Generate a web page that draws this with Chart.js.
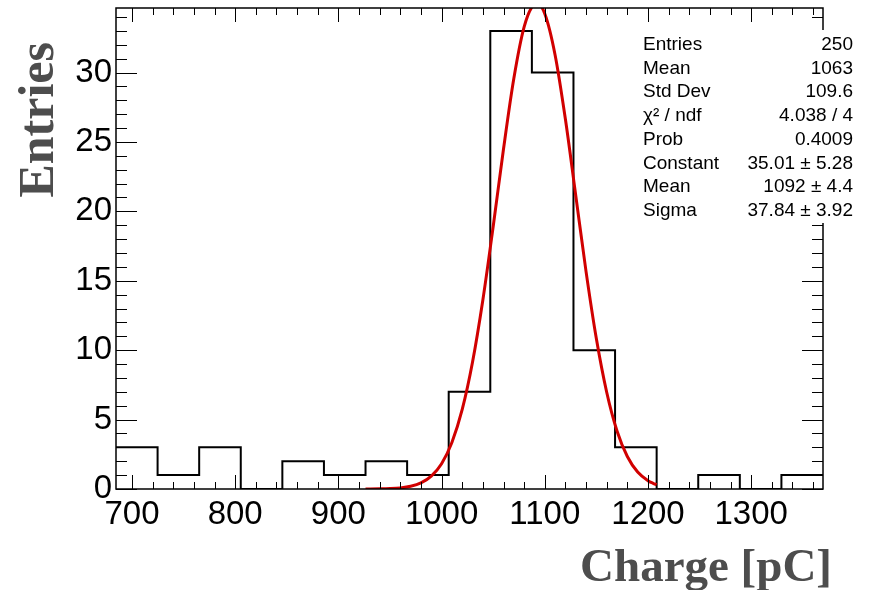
<!DOCTYPE html>
<html>
<head>
<meta charset="utf-8">
<script src="https://cdn.jsdelivr.net/npm/chart.js@4.4.1/dist/chart.umd.min.js"></script>
<style>
  html, body { margin: 0; padding: 0; background: #fff; }
  #wrap { width: 873px; height: 590px; }
</style>
</head>
<body>
<div id="wrap"><canvas id="myChart" width="873" height="590"></canvas></div>
<script>
// 히스토그램 구간 경계 (Charge [pC])
const BIN_EDGES = [
  684.5, 724.8, 765.1, 805.4, 845.7, 886.0, 926.3, 966.6, 1006.9,
  1047.2, 1087.5, 1127.8, 1168.1, 1208.4, 1248.7, 1289.0, 1329.3, 1369.6,
];
// 구간별 엔트리 수
const BIN_COUNTS = [3, 1, 3, 0, 2, 1, 2, 1, 7, 33, 30, 10, 3, 0, 1, 0, 1];

// 가우스 피팅 곡선
const FIT_X = [
  926.3, 940, 950, 960, 970, 980, 990, 1000, 1010, 1020, 1030, 1040, 1050,
  1060, 1070, 1080, 1090, 1092, 1100, 1110, 1120, 1130, 1140, 1150, 1160,
  1170, 1180, 1190, 1200, 1205, 1208.4,
];
const FIT_Y = [
  0.002, 0.011, 0.031, 0.08, 0.194, 0.438, 0.926, 1.82, 3.35, 5.73, 9.15,
  13.62, 18.91, 24.49, 29.57, 33.29, 34.96, 35.01, 34.24, 31.27, 26.63, 21.15,
  15.66, 10.82, 6.97, 4.18, 2.34, 1.22, 0.6, 0.41, 0.31,
];

// 통계 박스
const STAT_LABELS = ["Entries", "Mean", "Std Dev", "\u03c7\u00b2 / ndf", "Prob", "Constant", "Mean", "Sigma"];
const STAT_VALUES = ["250", "1063", "109.6", "4.038 / 4", "0.4009", "35.01 \u00b1 5.28", "1092 \u00b1 4.4", "37.84 \u00b1 3.92"];

const X_TITLE = "Charge [pC]";
const Y_TITLE = "Entries";

const SANS = "'Liberation Sans', Arial, Helvetica, sans-serif";
const SERIF = "'Liberation Serif', 'Times New Roman', serif";

// 프레임, 안쪽 눈금, 제목, 통계 텍스트
const rootStyle = {
  id: "rootStyle",
  afterDatasetsDraw(chart) {
    const { ctx, chartArea: a, scales } = chart;
    const x = scales.x;
    const y = scales.y;
    ctx.save();
    ctx.strokeStyle = "#000";
    ctx.lineWidth = 1;
    ctx.beginPath();
    for (let v = 700; v < x.max; v += 20) {
      const px = Math.round(x.getPixelForValue(v)) + 0.5;
      const len = v % 100 === 0 ? 14 : 7;
      ctx.moveTo(px, a.bottom);
      ctx.lineTo(px, a.bottom - len);
      ctx.moveTo(px, a.top);
      ctx.lineTo(px, a.top + len);
    }
    for (let v = 0; v < y.max; v += 1) {
      const py = Math.round(y.getPixelForValue(v)) + 0.5;
      const len = v % 5 === 0 ? 21 : 11;
      ctx.moveTo(a.left, py);
      ctx.lineTo(a.left + len, py);
      ctx.moveTo(a.right, py);
      ctx.lineTo(a.right - len, py);
    }
    ctx.stroke();

    ctx.lineWidth = 1.5;
    ctx.strokeRect(a.left, a.top, a.right - a.left, a.bottom - a.top);

    // 통계 박스 (흰 바탕, 테두리 없음)
    ctx.fillStyle = "#fff";
    ctx.fillRect(636, 30, 226, 193);
    ctx.fillStyle = "#000";
    ctx.font = "19px " + SANS;
    ctx.textBaseline = "alphabetic";
    STAT_LABELS.forEach((label, i) => {
      const by = 50 + i * 23.7;
      ctx.textAlign = "left";
      ctx.fillText(label, 643, by);
      ctx.textAlign = "right";
      ctx.fillText(STAT_VALUES[i], 853, by);
    });

    // 축 제목
    ctx.fillStyle = "#4d4d4d";
    ctx.font = "bold 47px " + SERIF;
    ctx.textAlign = "right";
    ctx.fillText(X_TITLE, 832, 581);

    ctx.font = "bold 50px " + SERIF;
    ctx.translate(53, 42);
    ctx.rotate(-Math.PI / 2);
    ctx.textAlign = "right";
    ctx.fillText(Y_TITLE, 0, 0);
    ctx.restore();
  },
};

const histPoints = BIN_EDGES.map((edge, i) => ({
  x: edge,
  y: BIN_COUNTS[Math.min(i, BIN_COUNTS.length - 1)],
}));
const fitPoints = FIT_X.map((v, i) => ({ x: v, y: FIT_Y[i] }));

const ctx = document.getElementById("myChart").getContext("2d");

// 축 영역을 고정해서 플롯 프레임 위치를 맞춘다
const fixPadding = (scale) => {
  scale.paddingTop = 0;
  scale.paddingBottom = 0;
  scale.paddingLeft = 0;
  scale.paddingRight = 0;
};

new Chart(ctx, {
  type: "line",
  data: {
    datasets: [
      {
        label: "gaus",
        data: fitPoints,
        borderColor: "#d10000",
        borderWidth: 3,
        pointRadius: 0,
        fill: false,
        cubicInterpolationMode: "monotone",
        order: 0,
      },
      {
        label: "hist",
        data: histPoints,
        borderColor: "#000",
        borderWidth: 2,
        pointRadius: 0,
        fill: false,
        stepped: "before",
        order: 1,
      },
    ],
  },
  options: {
    responsive: false,
    animation: false,
    layout: {
      padding: { top: 8, right: 50, left: 0, bottom: 0 },
    },
    plugins: {
      legend: { display: false },
      tooltip: { enabled: false },
    },
    scales: {
      x: {
        type: "linear",
        min: 684.5,
        max: 1369.6,
        afterFit: (scale) => {
          scale.height = 101;
          fixPadding(scale);
        },
        border: { display: false },
        grid: { display: false, drawTicks: false },
        ticks: {
          stepSize: 100,
          includeBounds: false,
          autoSkip: false,
          maxRotation: 0,
          minRotation: 0,
          padding: 6,
          color: "#000",
          font: { family: SANS, size: 33 },
          callback: (value) => String(value),
        },
      },
      y: {
        type: "linear",
        min: 0,
        max: 34.65,
        afterFit: (scale) => {
          scale.width = 116;
          fixPadding(scale);
        },
        border: { display: false },
        grid: { display: false, drawTicks: false },
        ticks: {
          stepSize: 5,
          includeBounds: false,
          padding: 4,
          color: "#000",
          font: { family: SANS, size: 33 },
          callback: (value) => String(value),
        },
      },
    },
  },
  plugins: [rootStyle],
});
</script>
</body>
</html>
